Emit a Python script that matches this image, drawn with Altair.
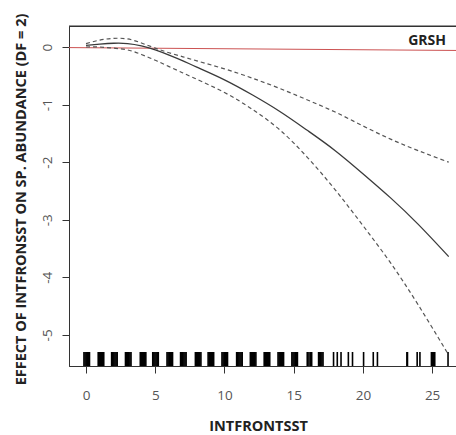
import altair as alt
import pandas as pd

# Smooth term for INTFRONTSST with its confidence band
fit_x = [0, 1, 2, 3, 4, 5, 6, 7, 8, 10, 12, 14, 16, 18, 20, 22, 24, 26.2]
fit_y = [0.03, 0.05, 0.065, 0.06, 0.02, -0.05, -0.14, -0.24, -0.35, -0.57,
         -0.83, -1.12, -1.45, -1.80, -2.20, -2.62, -3.08, -3.64]
upper_y = [0.06, 0.12, 0.15, 0.14, 0.07, -0.02, -0.10, -0.17, -0.24, -0.38,
           -0.54, -0.72, -0.92, -1.13, -1.37, -1.60, -1.80, -2.00]
lower_y = [0.0, 0.0, -0.02, -0.05, -0.13, -0.23, -0.34, -0.45, -0.56, -0.79,
           -1.08, -1.44, -1.92, -2.48, -3.10, -3.75, -4.48, -5.35]

# Reference line for GRSH
ref_x = [-1.23, 26.87]
ref_y = [-0.01, -0.06]
ref_label = "GRSH"
label_x = [26.0]
label_y = [0.1]

# Observed (jittered) INTFRONTSST values for the rug
rug_x = [
    -0.15, -0.07, 0.01, 0.09, 0.17, 0.25,
    0.88, 0.96, 1.04, 1.12, 1.20, 1.28,
    1.85, 1.93, 2.01, 2.09, 2.17, 2.25,
    2.85, 2.93, 3.01, 3.09, 3.17, 3.25,
    3.92, 4.00, 4.08, 4.16, 4.24, 4.32,
    4.82, 4.90, 4.98, 5.06, 5.14, 5.22,
    5.85, 5.93, 6.01, 6.09, 6.17, 6.25,
    6.83, 6.91, 6.99, 7.07, 7.15, 7.23,
    7.90, 7.98, 8.06, 8.14, 8.22, 8.30,
    8.82, 8.90, 8.98, 9.06, 9.14, 9.22,
    9.82, 9.90, 9.98, 10.06, 10.14, 10.22,
    10.88, 10.96, 11.04, 11.12, 11.20, 11.28,
    11.87, 11.95, 12.03, 12.11, 12.19, 12.27,
    12.87, 12.95, 13.03, 13.11, 13.19, 13.27,
    13.87, 13.95, 14.03, 14.11, 14.19, 14.27,
    14.87, 14.95, 15.03, 15.11, 15.19, 15.27,
    15.98, 16.10, 16.20, 16.30,
    16.80, 16.88, 16.96, 17.04, 17.12,
    17.88, 18.15, 18.42,
    18.95, 19.25,
    20.05,
    20.75, 21.05,
    23.18, 23.22,
    23.92, 24.12,
    24.95, 25.03, 25.11, 25.19,
    26.15,
]

x_ticks = [0, 5, 10, 15, 20, 25]
y_ticks = [0, -1, -2, -3, -4, -5]

# axis ranges; the plot box runs a little past the right edge of the page
x_range = [-1.23, 26.87]
y_range = [-5.54, 0.365]

W, H = 389, 340
FONT = "Open Sans"
AX = "#333333"

x_scale = alt.Scale(domain=x_range, nice=False, zero=False)
y_scale = alt.Scale(domain=y_range, nice=False, zero=False)

curve_df = pd.DataFrame({"x": fit_x, "fit": fit_y, "upper": upper_y, "lower": lower_y})
ref_df = pd.DataFrame({"x": ref_x, "y": ref_y})
lab_df = pd.DataFrame({"x": label_x, "y": label_y, "t": [ref_label]})
rug_df = pd.DataFrame({"x": rug_x})
frame_df = pd.DataFrame({"x0": [x_range[0]], "x1": [x_range[1]], "ytop": [y_range[1]]})

bottom_axis = alt.Axis(
    values=x_ticks, tickSize=7, tickColor=AX, domainColor=AX, grid=False,
    labelFont=FONT, labelFontSize=13.5, labelColor="#555555",
    labelBaseline="middle", labelPadding=22,
    title="INTFRONTSST", titleFont=FONT, titleFontSize=14.5, titleFontWeight="bold",
    titleColor="#222222", titleX=189, titleY=60, titleAlign="center",
    titleBaseline="middle", titleAngle=0,
)
left_axis = alt.Axis(
    values=y_ticks, tickSize=7, tickColor=AX, domainColor=AX, grid=False,
    labelExpr="toString(datum.value)",
    labelFont=FONT, labelFontSize=13.5, labelColor="#555555",
    labelAngle=270, labelAlign="center", labelBaseline="middle", labelPadding=15,
    title="EFFECT OF INTFRONSST ON SP. ABUNDANCE (DF = 2)",
    titleFont=FONT, titleFontSize=14.5, titleFontWeight="bold", titleColor="#222222",
    titleAngle=270, titleX=-47.5, titleY=173, titleAlign="center", titleBaseline="middle",
)


def xq(field):
    return alt.X(field, type="quantitative", scale=x_scale, axis=bottom_axis)


def yq(field):
    return alt.Y(field, type="quantitative", scale=y_scale, axis=left_axis)


ref_line = alt.Chart(ref_df).mark_line(color="#cc5252", strokeWidth=1, clip=True).encode(
    x=xq("x"), y=yq("y"),
)

fit_line = alt.Chart(curve_df).mark_line(
    color="#3a3a3a", strokeWidth=1.3, interpolate="natural", clip=True
).encode(x=xq("x"), y=yq("fit"))

upper_line = alt.Chart(curve_df).mark_line(
    color="#555555", strokeWidth=1.2, strokeDash=[4, 3], interpolate="natural", clip=True
).encode(x=xq("x"), y=yq("upper"))

lower_line = alt.Chart(curve_df).mark_line(
    color="#555555", strokeWidth=1.2, strokeDash=[4, 3], interpolate="natural", clip=True
).encode(x=xq("x"), y=yq("lower"))

rug = alt.Chart(rug_df).mark_rule(color="black", strokeWidth=1.6).encode(
    x=xq("x"),
    y=alt.value(H - 14),
    y2=alt.value(H),
)

label = alt.Chart(lab_df).mark_text(
    align="right", baseline="middle", font=FONT, fontSize=14, fontWeight="bold", color="#222222"
).encode(x=xq("x"), y=yq("y"), text="t:N")

# top edge of the plot box
frame_top = alt.Chart(frame_df).mark_rule(color=AX, strokeWidth=1.2).encode(
    x=xq("x0"), x2="x1:Q", y=yq("ytop"),
)

chart = (
    alt.layer(ref_line, upper_line, lower_line, fit_line, rug, label, frame_top)
    .properties(
        width=W, height=H,
        autosize=alt.AutoSizeParams(type="none"),
        padding={"left": 69, "top": 26, "right": -2, "bottom": 69},
        background="white",
    )
    .configure_view(stroke=AX, strokeWidth=1)
)

chart.save("out.html", embed_options={"renderer": "svg", "actions": False})
